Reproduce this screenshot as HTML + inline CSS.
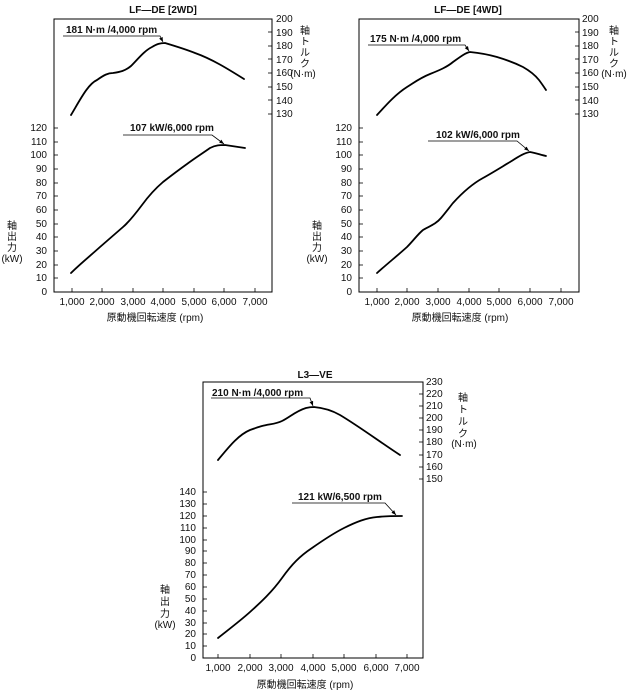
<!DOCTYPE html>
<html><head><meta charset="utf-8"><style>
html,body{margin:0;padding:0;background:#fff;}
svg{display:block;font-family:"Liberation Sans","Noto Sans CJK JP",sans-serif;}
.t{font-size:10px;fill:#111}
.b{font-size:10px;font-weight:bold;fill:#111}
.c{fill:none;stroke:#000;stroke-width:1.8;stroke-linejoin:round;stroke-linecap:round}
.a{fill:none;stroke:#000;stroke-width:0.8}
.box{fill:none;stroke:#000;stroke-width:1}
</style></head><body>
<svg width="630" height="696" viewBox="0 0 630 696">
<defs><marker id="ar" viewBox="0 0 10 10" refX="10" refY="5" markerWidth="6" markerHeight="6" orient="auto"><path d="M0,1 L10,5 L0,9 z" fill="#000"/></marker></defs>
<!-- Chart 1 -->
<text class="b" x="163" y="13" text-anchor="middle">LF—DE [2WD]</text>
<rect class="box" x="54" y="19" width="218" height="273"/>
<g class="t" text-anchor="end">
<text x="47" y="295">0</text><text x="47" y="281">10</text><text x="47" y="268">20</text><text x="47" y="254">30</text><text x="47" y="240">40</text><text x="47" y="227">50</text><text x="47" y="213">60</text><text x="47" y="199">70</text><text x="47" y="186">80</text><text x="47" y="172">90</text><text x="47" y="158">100</text><text x="47" y="145">110</text><text x="47" y="131">120</text>
</g>
<g stroke="#000" stroke-width="0.8">
<line x1="54" y1="278" x2="58" y2="278"/><line x1="54" y1="265" x2="58" y2="265"/><line x1="54" y1="251" x2="58" y2="251"/><line x1="54" y1="237" x2="58" y2="237"/><line x1="54" y1="224" x2="58" y2="224"/><line x1="54" y1="210" x2="58" y2="210"/><line x1="54" y1="196" x2="58" y2="196"/><line x1="54" y1="183" x2="58" y2="183"/><line x1="54" y1="169" x2="58" y2="169"/><line x1="54" y1="155" x2="58" y2="155"/><line x1="54" y1="142" x2="58" y2="142"/><line x1="54" y1="128" x2="58" y2="128"/>
<line x1="268" y1="32" x2="272" y2="32"/><line x1="268" y1="46" x2="272" y2="46"/><line x1="268" y1="59" x2="272" y2="59"/><line x1="268" y1="73" x2="272" y2="73"/><line x1="268" y1="87" x2="272" y2="87"/><line x1="268" y1="100" x2="272" y2="100"/><line x1="268" y1="114" x2="272" y2="114"/>
<line x1="72" y1="288" x2="72" y2="292"/><line x1="102" y1="288" x2="102" y2="292"/><line x1="133" y1="288" x2="133" y2="292"/><line x1="163" y1="288" x2="163" y2="292"/><line x1="194" y1="288" x2="194" y2="292"/><line x1="224" y1="288" x2="224" y2="292"/><line x1="255" y1="288" x2="255" y2="292"/>
</g>
<g class="t">
<text x="276" y="22">200</text><text x="276" y="36">190</text><text x="276" y="49">180</text><text x="276" y="63">170</text><text x="276" y="76">160</text><text x="276" y="90">150</text><text x="276" y="104">140</text><text x="276" y="117">130</text>
</g>
<g class="t" text-anchor="middle">
<text x="72" y="305">1,000</text><text x="102" y="305">2,000</text><text x="133" y="305">3,000</text><text x="163" y="305">4,000</text><text x="194" y="305">5,000</text><text x="224" y="305">6,000</text><text x="255" y="305">7,000</text>
<text x="155" y="321">原動機回転速度 (rpm)</text>
<text x="12" y="229">軸</text><text x="12" y="240">出</text><text x="12" y="251">力</text><text x="12" y="262">(kW)</text>
<text x="305" y="34">軸</text><text x="305" y="45">ト</text><text x="305" y="56">ル</text><text x="305" y="67">ク</text><text x="303" y="77">(N·m)</text>
</g>
<path class="c" d="M71,115 C80,100 88,84 97,80 C104,75 108,73 113,73 C120,72 125,71 131,66 C138,59 144,51 152,47 C157,44 160,43 165,43 C175,46 185,49 195,53 C212,59 228,69 244,79"/>
<path class="c" d="M71,273 C80,264 90,256 100,247 C108,240 116,233 123,227 C130,221 136,213 142,205 C150,194 156,188 163,182 C172,175 180,169 187,164 C195,158 203,153 210,148 C216,145 220,145 225,145 C232,146 238,147 245,148"/>
<text class="b" x="66" y="33">181 N·m /4,000 rpm</text>
<polyline class="a" points="63,36 160,36 163,42" marker-end="url(#ar)"/>
<text class="b" x="130" y="131">107 kW/6,000 rpm</text>
<polyline class="a" points="123,135 212,135 224,144" marker-end="url(#ar)"/>

<!-- Chart 2 -->
<text class="b" x="468" y="13" text-anchor="middle">LF—DE [4WD]</text>
<rect class="box" x="359" y="19" width="220" height="273"/>
<g class="t" text-anchor="end">
<text x="352" y="295">0</text><text x="352" y="281">10</text><text x="352" y="268">20</text><text x="352" y="254">30</text><text x="352" y="240">40</text><text x="352" y="227">50</text><text x="352" y="213">60</text><text x="352" y="199">70</text><text x="352" y="186">80</text><text x="352" y="172">90</text><text x="352" y="158">100</text><text x="352" y="145">110</text><text x="352" y="131">120</text>
</g>
<g stroke="#000" stroke-width="0.8">
<line x1="359" y1="278" x2="363" y2="278"/><line x1="359" y1="265" x2="363" y2="265"/><line x1="359" y1="251" x2="363" y2="251"/><line x1="359" y1="237" x2="363" y2="237"/><line x1="359" y1="224" x2="363" y2="224"/><line x1="359" y1="210" x2="363" y2="210"/><line x1="359" y1="196" x2="363" y2="196"/><line x1="359" y1="183" x2="363" y2="183"/><line x1="359" y1="169" x2="363" y2="169"/><line x1="359" y1="155" x2="363" y2="155"/><line x1="359" y1="142" x2="363" y2="142"/><line x1="359" y1="128" x2="363" y2="128"/>
<line x1="575" y1="32" x2="579" y2="32"/><line x1="575" y1="46" x2="579" y2="46"/><line x1="575" y1="59" x2="579" y2="59"/><line x1="575" y1="73" x2="579" y2="73"/><line x1="575" y1="87" x2="579" y2="87"/><line x1="575" y1="100" x2="579" y2="100"/><line x1="575" y1="114" x2="579" y2="114"/>
<line x1="377" y1="288" x2="377" y2="292"/><line x1="407" y1="288" x2="407" y2="292"/><line x1="438" y1="288" x2="438" y2="292"/><line x1="469" y1="288" x2="469" y2="292"/><line x1="499" y1="288" x2="499" y2="292"/><line x1="530" y1="288" x2="530" y2="292"/><line x1="561" y1="288" x2="561" y2="292"/>
</g>
<g class="t">
<text x="582" y="22">200</text><text x="582" y="36">190</text><text x="582" y="49">180</text><text x="582" y="63">170</text><text x="582" y="76">160</text><text x="582" y="90">150</text><text x="582" y="104">140</text><text x="582" y="117">130</text>
</g>
<g class="t" text-anchor="middle">
<text x="377" y="305">1,000</text><text x="407" y="305">2,000</text><text x="438" y="305">3,000</text><text x="469" y="305">4,000</text><text x="499" y="305">5,000</text><text x="530" y="305">6,000</text><text x="561" y="305">7,000</text>
<text x="460" y="321">原動機回転速度 (rpm)</text>
<text x="317" y="229">軸</text><text x="317" y="240">出</text><text x="317" y="251">力</text><text x="317" y="262">(kW)</text>
<text x="614" y="34">軸</text><text x="614" y="45">ト</text><text x="614" y="56">ル</text><text x="614" y="67">ク</text><text x="614" y="77">(N·m)</text>
</g>
<path class="c" d="M377,115 C387,104 396,94 407,87 C415,82 420,78 430,74 C440,70 447,67 453,62 C460,57 465,53 470,52 C480,53 490,55 497,57 C507,60 515,63 523,67 C530,71 535,75 539,80 C542,84 544,87 546,90"/>
<path class="c" d="M377,273 C387,264 397,256 407,247 C413,241 418,234 423,230 C430,226 436,224 441,218 C446,212 449,208 453,203 C463,192 472,184 483,178 C492,173 500,168 510,162 C518,157 524,153 530,152 C536,153 541,155 546,156"/>
<text class="b" x="370" y="42">175 N·m /4,000 rpm</text>
<polyline class="a" points="368,45 465,45 469,51" marker-end="url(#ar)"/>
<text class="b" x="436" y="138">102 kW/6,000 rpm</text>
<polyline class="a" points="428,141 517,141 529,151" marker-end="url(#ar)"/>

<!-- Chart 3 -->
<text class="b" x="315" y="378" text-anchor="middle">L3—VE</text>
<rect class="box" x="203" y="382" width="220" height="276"/>
<g class="t" text-anchor="end">
<text x="196" y="661">0</text><text x="196" y="649">10</text><text x="196" y="637">20</text><text x="196" y="626">30</text><text x="196" y="614">40</text><text x="196" y="602">50</text><text x="196" y="590">60</text><text x="196" y="578">70</text><text x="196" y="566">80</text><text x="196" y="554">90</text><text x="196" y="543">100</text><text x="196" y="531">110</text><text x="196" y="519">120</text><text x="196" y="507">130</text><text x="196" y="495">140</text>
</g>
<g stroke="#000" stroke-width="0.8">
<line x1="203" y1="646" x2="207" y2="646"/><line x1="203" y1="634" x2="207" y2="634"/><line x1="203" y1="623" x2="207" y2="623"/><line x1="203" y1="611" x2="207" y2="611"/><line x1="203" y1="599" x2="207" y2="599"/><line x1="203" y1="587" x2="207" y2="587"/><line x1="203" y1="575" x2="207" y2="575"/><line x1="203" y1="563" x2="207" y2="563"/><line x1="203" y1="551" x2="207" y2="551"/><line x1="203" y1="540" x2="207" y2="540"/><line x1="203" y1="528" x2="207" y2="528"/><line x1="203" y1="516" x2="207" y2="516"/><line x1="203" y1="504" x2="207" y2="504"/><line x1="203" y1="492" x2="207" y2="492"/>
<line x1="419" y1="394" x2="423" y2="394"/><line x1="419" y1="406" x2="423" y2="406"/><line x1="419" y1="418" x2="423" y2="418"/><line x1="419" y1="430" x2="423" y2="430"/><line x1="419" y1="442" x2="423" y2="442"/><line x1="419" y1="455" x2="423" y2="455"/><line x1="419" y1="467" x2="423" y2="467"/><line x1="419" y1="479" x2="423" y2="479"/>
<line x1="218" y1="654" x2="218" y2="658"/><line x1="250" y1="654" x2="250" y2="658"/><line x1="281" y1="654" x2="281" y2="658"/><line x1="313" y1="654" x2="313" y2="658"/><line x1="344" y1="654" x2="344" y2="658"/><line x1="376" y1="654" x2="376" y2="658"/><line x1="407" y1="654" x2="407" y2="658"/>
</g>
<g class="t">
<text x="426" y="385">230</text><text x="426" y="397">220</text><text x="426" y="409">210</text><text x="426" y="421">200</text><text x="426" y="433">190</text><text x="426" y="445">180</text><text x="426" y="458">170</text><text x="426" y="470">160</text><text x="426" y="482">150</text>
</g>
<g class="t" text-anchor="middle">
<text x="218" y="671">1,000</text><text x="250" y="671">2,000</text><text x="281" y="671">3,000</text><text x="313" y="671">4,000</text><text x="344" y="671">5,000</text><text x="376" y="671">6,000</text><text x="407" y="671">7,000</text>
<text x="305" y="688">原動機回転速度 (rpm)</text>
<text x="165" y="593">軸</text><text x="165" y="605">出</text><text x="165" y="617">力</text><text x="165" y="628">(kW)</text>
<text x="463" y="401">軸</text><text x="463" y="413">ト</text><text x="463" y="425">ル</text><text x="463" y="437">ク</text><text x="464" y="447">(N·m)</text>
</g>
<path class="c" d="M218,460 C228,448 238,435 250,430 C256,428 258,427 262,426 C270,424 276,424 282,421 C290,417 296,411 306,408 C310,407 312,407 314,407 C325,408 333,411 340,415 C360,427 380,442 400,455"/>
<path class="c" d="M218,638 C228,630 240,621 250,612 C260,603 272,592 282,578 C292,564 300,556 312,548 C322,541 332,534 344,528 C356,522 366,518 377,517 C386,516 394,516 402,516"/>
<text class="b" x="212" y="396">210 N·m /4,000 rpm</text>
<polyline class="a" points="211,398 310,398 313,406" marker-end="url(#ar)"/>
<text class="b" x="298" y="500">121 kW/6,500 rpm</text>
<polyline class="a" points="292,503 385,503 396,515" marker-end="url(#ar)"/>
</svg>
</body></html>
